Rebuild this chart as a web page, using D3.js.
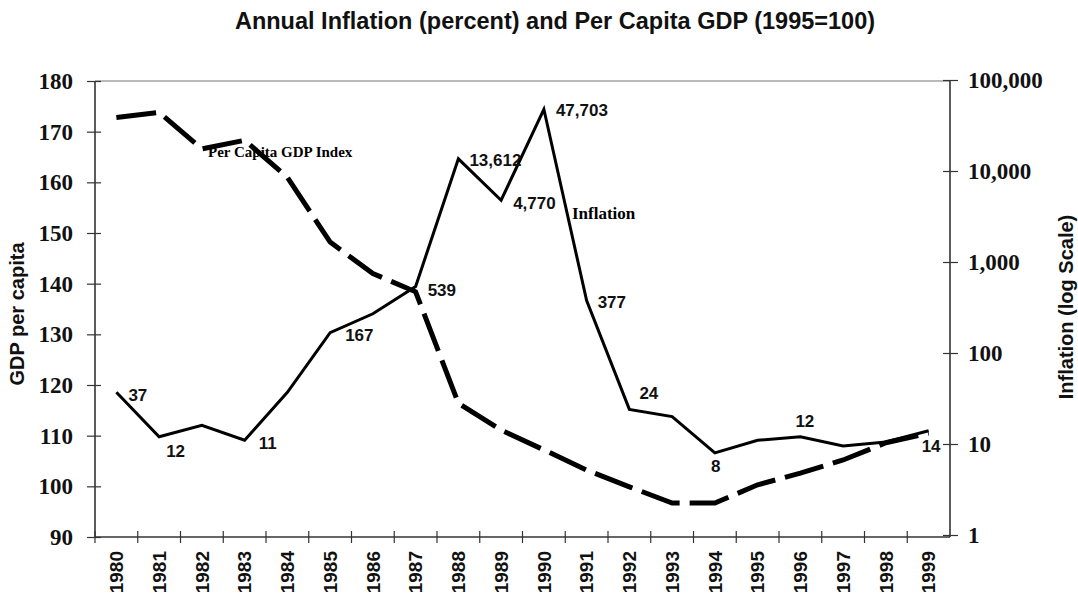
<!DOCTYPE html>
<html>
<head>
<meta charset="utf-8">
<script src="https://cdn.jsdelivr.net/npm/d3@7"></script>
<style>
  html, body { margin: 0; padding: 0; background: #fff; }
  svg { display: block; }
</style>
</head>
<body>
<svg id="chart" width="1078" height="599"></svg>
<script>
// Years on the horizontal axis
const years = d3.range(1980, 2000).map(String);

// Per capita GDP index (1995 = 100), left axis
const gdpIndex = [172.8, 173.8, 166.6, 168.3, 161.0, 148.2, 142.0, 138.4, 116.4, 111.1,
                  107.2, 103.2, 99.9, 96.7, 96.7, 100.3, 102.6, 105.2, 108.6, 110.5];

// Annual inflation in percent, right axis (log scale)
const inflation = [37, 12, 16, 11, 37, 167, 270, 539, 13612, 4770,
                   47703, 377, 24, 20, 8, 11, 12, 9.5, 10.5, 14];

// Years whose inflation value is printed next to the line
const labelledYears = ["1980", "1981", "1983", "1985", "1987", "1988", "1989",
                       "1990", "1991", "1992", "1994", "1996", "1999"];

// Tick values
const gdpTicks = d3.range(90, 181, 10);
const inflationTicks = [1, 10, 100, 1000, 10000, 100000];

// Label placement relative to its point
const labelOffset = {
  "1980": [12, 9], "1981": [7, 20], "1983": [14, 9], "1985": [15, 8],
  "1987": [12, 10], "1988": [11, 7], "1989": [12, 9], "1990": [12, 7],
  "1991": [11, 7], "1992": [10, -10], "1994": [-4, 19], "1996": [-5, -10],
  "1999": [-7, 21]
};

const svg = d3.select("#chart");
const plotLeft = 95, plotRight = 950, plotTop = 81, plotBottom = 537;

const x = d3.scaleBand().domain(years).range([plotLeft, plotRight]).padding(0);
const cx = d => x(d) + x.bandwidth() / 2;
const yL = d3.scaleLinear().domain([90, 180]).range([plotBottom, plotTop]);
const yR = d3.scaleLog().domain([1, 100000]).range([plotBottom - 2, plotTop - 1]);

const serif = "'Liberation Serif', 'Times New Roman', serif";
const sans = "'Liberation Sans', Arial, sans-serif";

// Title
svg.append("text")
  .attr("x", 555).attr("y", 29)
  .attr("text-anchor", "middle")
  .style("font-family", sans).style("font-weight", "bold").style("font-size", "23.5px")
  .attr("fill", "#111")
  .text("Annual Inflation (percent) and Per Capita GDP (1995=100)");

// Top frame line
svg.append("line")
  .attr("x1", plotLeft).attr("x2", plotRight).attr("y1", plotTop).attr("y2", plotTop)
  .attr("stroke", "#777").attr("stroke-width", 1.2);

// Left axis
const gL = svg.append("g").attr("transform", `translate(${plotLeft},0)`)
  .call(d3.axisLeft(yL).tickValues(gdpTicks).tickSize(8).tickPadding(14));
gL.selectAll(".tick line").attr("x1", 6).attr("x2", -8);
gL.select(".domain").attr("d", `M0,${plotTop}V${plotBottom}`);

// Right axis
const gR = svg.append("g").attr("transform", `translate(${plotRight},0)`)
  .call(d3.axisRight(yR).tickValues(inflationTicks).tickFormat(d3.format(",")).tickSize(8).tickPadding(10));
gR.selectAll(".tick line").attr("x1", -7).attr("x2", 8);
gR.select(".domain").attr("d", `M0,${plotTop}V${plotBottom}`);

[gL, gR].forEach(g => {
  g.select(".domain").attr("stroke", "#333").attr("stroke-width", 1.6);
  g.selectAll(".tick line").attr("stroke", "#333").attr("stroke-width", 1.2);
  g.selectAll(".tick text")
    .style("font-family", serif).style("font-weight", "bold").style("font-size", "23px")
    .attr("fill", "#111");
});

// Bottom axis: ticks at the category boundaries
const gX = svg.append("g").attr("transform", `translate(0,${plotBottom})`)
  .call(d3.axisBottom(x).tickSize(0).tickPadding(0));
gX.select(".domain").attr("d", `M${plotLeft},0H${plotRight}`).attr("stroke", "#333").attr("stroke-width", 1.6);
gX.selectAll(".tick").append("line")
  .attr("x1", -x.bandwidth() / 2).attr("x2", -x.bandwidth() / 2)
  .attr("y1", -6).attr("y2", 6)
  .attr("stroke", "#333").attr("stroke-width", 1.2);
gX.selectAll(".tick text")
  .attr("transform", "rotate(-90)")
  .attr("x", -14).attr("y", 0).attr("dy", "0.36em")
  .style("text-anchor", "end")
  .style("font-family", sans).style("font-weight", "bold").style("font-size", "19px")
  .attr("fill", "#111");

// Axis titles
svg.append("text")
  .attr("transform", "translate(24,314) rotate(-90)")
  .attr("text-anchor", "middle")
  .style("font-family", sans).style("font-weight", "bold").style("font-size", "20px")
  .attr("fill", "#111")
  .text("GDP per capita");
svg.append("text")
  .attr("transform", "translate(1073,307) rotate(-90)")
  .attr("text-anchor", "middle")
  .style("font-family", sans).style("font-weight", "bold").style("font-size", "20px")
  .attr("fill", "#111")
  .text("Inflation (log Scale)");

// GDP dashed line
const gdpLine = d3.line().x((d, i) => cx(years[i])).y(d => yL(d));
svg.append("path")
  .datum(gdpIndex)
  .attr("d", gdpLine)
  .attr("fill", "none").attr("stroke", "#000")
  .attr("stroke-width", 5).attr("stroke-dasharray", "40,10");

// Inflation solid line
const infLine = d3.line().x((d, i) => cx(years[i])).y(d => yR(d));
svg.append("path")
  .datum(inflation)
  .attr("d", infLine)
  .attr("fill", "none").attr("stroke", "#000")
  .attr("stroke-width", 3).attr("stroke-linejoin", "miter");

// Value labels on the inflation line
svg.append("g").selectAll("text")
  .data(labelledYears)
  .join("text")
  .attr("x", d => cx(d) + labelOffset[d][0])
  .attr("y", d => yR(inflation[years.indexOf(d)]) + labelOffset[d][1])
  .style("font-family", sans).style("font-weight", "bold").style("font-size", "17px")
  .attr("fill", "#111")
  .text(d => d3.format(",")(inflation[years.indexOf(d)]));

// Series names
svg.append("text")
  .attr("x", 208).attr("y", 157)
  .style("font-family", serif).style("font-weight", "bold").style("font-size", "15px")
  .text("Per Capita GDP Index");
svg.append("text")
  .attr("x", 572).attr("y", 219)
  .style("font-family", serif).style("font-weight", "bold").style("font-size", "17px")
  .text("Inflation");
</script>
</body>
</html>
